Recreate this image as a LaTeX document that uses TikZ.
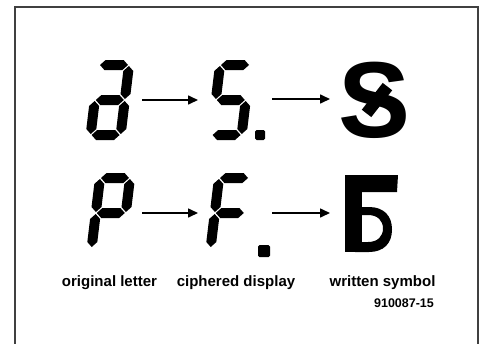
\documentclass[tikz,border=0pt]{standalone}
\usepackage{fontspec}
\setmainfont{Liberation Sans}
\usetikzlibrary{arrows.meta}
\tikzset{
  segfill/.style={fill=black},
  frameline/.style={draw=black!75, line width=2.2pt},
  arrowline/.style={line width=1.6pt, -{Triangle[length=10pt,width=9pt]}},
  lbl/.style={font=\bfseries\fontsize{15}{15}\selectfont, inner sep=0pt},
  codelbl/.style={font=\bfseries\fontsize{12.5}{12.5}\selectfont, inner sep=0pt},
  digitscope/.style={xslant=0.12}
}
% segments of a slanted seven-segment digit (local coords, y down, bottom at 0)
\newcommand\segA{\fill[segfill] (6,-75) -- (11,-80) -- (29,-80) -- (34,-75) -- (29,-70) -- (11,-70) -- cycle;}
\newcommand\segG{\fill[segfill] (6,-40) -- (11,-45) -- (29,-45) -- (34,-40) -- (29,-35) -- (11,-35) -- cycle;}
\newcommand\segD{\fill[segfill] (6,-5) -- (11,-10) -- (29,-10) -- (34,-5) -- (29,0) -- (11,0) -- cycle;}
\newcommand\segE{\fill[segfill] (5,-6) -- (0,-11) -- (0,-34) -- (5,-39) -- (10,-34) -- (10,-11) -- cycle;}
\newcommand\segF{\fill[segfill] (5,-41) -- (0,-46) -- (0,-69) -- (5,-74) -- (10,-69) -- (10,-46) -- cycle;}
\newcommand\segC{\fill[segfill] (35,-6) -- (30,-11) -- (30,-34) -- (35,-39) -- (40,-34) -- (40,-11) -- cycle;}
\newcommand\segB{\fill[segfill] (35,-41) -- (30,-46) -- (30,-69) -- (35,-74) -- (40,-69) -- (40,-46) -- cycle;}
\begin{document}
\begin{tikzpicture}[x=1pt,y=-1pt]
\useasboundingbox (0,0) rectangle (484,343);
% frame (open at the bottom edge of the picture)
\draw[frameline] (15,360) -- (15,7) -- (478,7) -- (478,360);

% row 1: a -> S. -> symbol
\begin{scope}[shift={(85,140)},digitscope]
  \segA\segB\segC\segD\segE\segG
\end{scope}
\begin{scope}[shift={(206,140)},digitscope]
  \segA\segF\segG\segC\segD
\end{scope}
\fill[rounded corners=1.5pt] (255,130) rectangle (265,140);

% S with bar
\node[inner sep=0pt, font=\bfseries\fontsize{108}{108}\selectfont] (ssym) at (375,100) {S};
\fill[rotate around={52:(377,100)}] (360,94) rectangle (394,106);

% row 2: P -> F. -> Be
\begin{scope}[shift={(86,253)},digitscope]
  \segA\segB\segF\segG\segE
\end{scope}
\begin{scope}[shift={(205,253)},digitscope]
  \segA\segF\segG\segE
\end{scope}
\fill[rounded corners=1.5pt] (258,245) rectangle (270,257);

% Be symbol
\fill[even odd rule]
  (355,207) -- (369,207) .. controls (384,207) and (392,216) .. (392,229.5)
  .. controls (392,243) and (384,252) .. (369,252) -- (355,252) -- cycle
  (355,215) -- (368,215) .. controls (378,215) and (383,221) .. (383,228.5)
  .. controls (383,236) and (378,242) .. (368,242) -- (355,242) -- cycle;
\fill (345,175) rectangle (362,252);
\fill (345,175) -- (398,175) -- (397,192) -- (345,192) -- cycle;

% arrows
\coordinate (r1a) at (142,100);
\coordinate (r1b) at (198,100);
\coordinate (r1c) at (272,99);
\coordinate (r1d) at (330,99);
\coordinate (r2a) at (142,213);
\coordinate (r2b) at (198,213);
\coordinate (r2c) at (272,213);
\coordinate (r2d) at (330,213);
\draw[arrowline] (r1a) -- (r1b);
\draw[arrowline] (r1c) -- (r1d);
\draw[arrowline] (r2a) -- (r2b);
\draw[arrowline] (r2c) -- (r2d);

% labels
\node[lbl] (l1) at (109.5,283) {original letter};
\node[lbl] (l2) at (236,283) {ciphered display};
\node[lbl] (l3) at (382.5,283) {written symbol};
\node[codelbl] (code) at (404,303) {910087-15};
\end{tikzpicture}
\end{document}
